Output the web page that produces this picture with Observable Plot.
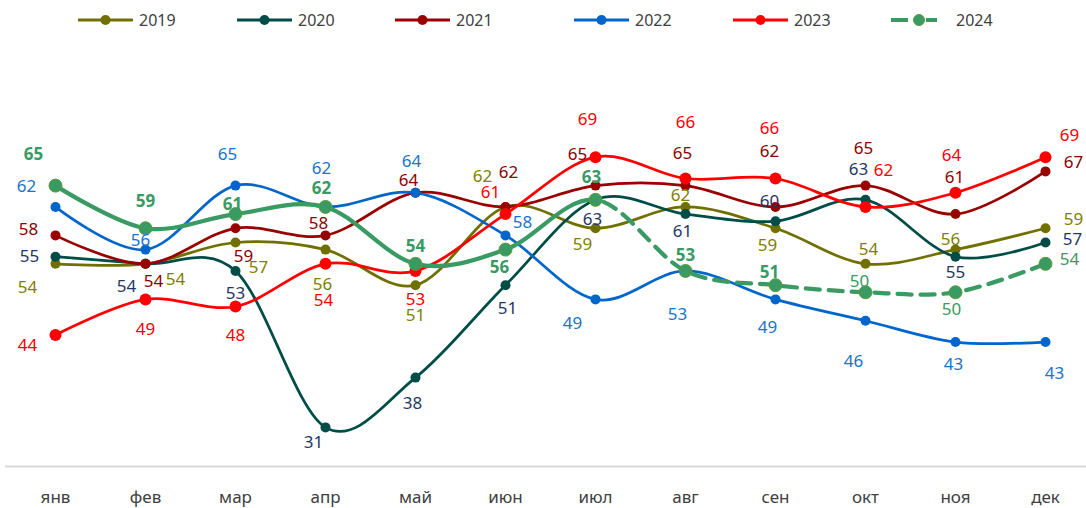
<!DOCTYPE html>
<html><head><meta charset="utf-8">
<script src="https://cdn.jsdelivr.net/npm/d3@7"></script>
<script src="https://cdn.jsdelivr.net/npm/@observablehq/plot@0.6"></script>
<style>
body{margin:0;background:#fff;font-family:"Noto Sans",sans-serif;}
#legend{position:relative;height:40px;width:1086px;}
.item{position:absolute;top:0;height:40px;display:flex;align-items:center;font-size:16px;color:#404040;}
.item svg{margin-right:5px;}
</style></head><body>
<div id="legend"></div><div id="chart"></div>
<script>
// ---- data ----
const months = ["янв","фев","мар","апр","май","июн","июл","авг","сен","окт","ноя","дек"];
const years = ["2019","2020","2021","2022","2023","2024"];
const v2019 = [54,54,57,56,51,62,59,62,59,54,56,59];
const v2020 = [55,54,53,31,38,51,63,61,60,63,55,57];
const v2021 = [58,54,59,58,64,62,65,65,62,65,61,67];
const v2022 = [62,56,65,62,64,58,49,53,49,46,43,43];
const v2023 = [44,49,48,54,53,61,69,66,66,62,64,69];
const v2024 = [65,59,61,62,54,56,63,53,51,50,50,54];
const values = [v2019,v2020,v2021,v2022,v2023,v2024];

// ---- styles / label placement ----
const lineColors = ["#707000","#004D47","#990000","#0066CC","#FF0000","#3A9A64"];
const labelColors = ["#7F7F00","#1F3864","#8B0000","#1874CD","#FF0000","#3A9A64"];
const off2019 = [[-28,24],[30,16],[23,25],[-3,35],[0,30],[-23,-30],[-13,16],[-5,-11],[-8,17],[3,-14],[-5,-10],[28,-9]];
const off2020 = [[-26,0],[-19,23],[0,23],[-12,15],[-3,26],[2,23],[-3,20],[-3,17],[-6,-20],[-7,-30],[0,16],[27,-3]];
const off2021 = [[-27,-6],[8,18],[8,28],[-7,-12],[-7,-12],[3,-34],[-18,-31],[-3,-32],[-6,-55],[-2,-37],[-1,-37],[28,-9]];
const off2022 = [[-29,-20],[-5,-9],[-8,-31],[-4,-38],[-4,-31],[17,-13],[-23,24],[-8,44],[-8,28],[-12,41],[-2,22],[9,31]];
const off2023 = [[-28,11],[0,30],[0,29],[-2,37],[0,29],[-15,-22],[-8,-38],[0,-56],[-6,-50],[18,-36],[-4,-37],[24,-22]];
const off2024 = [[-22,-31],[0,-27],[-3,-10],[-4,-18],[0,-17],[-6,18],[-4,-22],[0,-15],[-6,-13],[-6,-11],[-4,17],[24,-4]];
const offsets = [off2019,off2020,off2021,off2022,off2023,off2024];
const bold2024 = [1,1,1,1,1,1,1,1,1,0,0,0];
const line2024Id = "#3a9a65"; // tag colour used to find the 2024 path

// ---- legend ----
const legendX = [78,237,395,574,733,891];
const legend = document.getElementById("legend");
years.forEach((yr,i)=>{
  const d = document.createElement("div");
  d.className="item"; d.style.left = legendX[i]+"px";
  const c = lineColors[i];
  let sw;
  if (i<5) {
    sw = `<svg width="56" height="14"><line x1="0" y1="7" x2="55" y2="7" stroke="${c}" stroke-width="3"/><circle cx="27.5" cy="7" r="5" fill="${c}"/></svg>`;
  } else {
    sw = `<svg width="60" height="14"><line x1="0" y1="7" x2="17" y2="7" stroke="${c}" stroke-width="4"/><line x1="35" y1="7" x2="46" y2="7" stroke="${c}" stroke-width="4"/><circle cx="28" cy="7" r="5.5" fill="${c}" stroke="#5C9A3C" stroke-width="1"/></svg>`;
  }
  d.innerHTML = sw + `<span>${yr}</span>`;
  legend.appendChild(d);
});

// ---- chart ----
const rows = [];
years.forEach((yr,i)=>values[i].forEach((v,j)=>rows.push({year:yr, month:months[j], value:v, i, j})));

const marks = [Plot.ruleY([25.5], {stroke:"#D9D9D9", strokeWidth:2})];
years.forEach((yr,i)=>{
  const data = rows.filter(r=>r.year===yr);
  const is24 = i===5;
  marks.push(Plot.line(data, {x:"month", y:"value", stroke: is24 ? line2024Id : lineColors[i], strokeWidth: is24?4.25:2.75, curve:"cardinal", tension:0}));
  marks.push(Plot.dot(data, {x:"month", y:"value", r: is24?6.5:(i===4?6:5), fill:lineColors[i], stroke: is24?"#5C9A3C":"none", strokeWidth:1}));
});
rows.forEach(r=>{
  const [dx,dy] = offsets[r.i][r.j];
  marks.push(Plot.text([r], {x:"month", y:"value", text: d=>String(d.value), dx, dy,
    fill: labelColors[r.i], fontSize:17,
    fontWeight: (r.i===5 && bold2024[r.j]) ? "bold" : "normal"}));
});
marks.push(Plot.axisX({tickSize:0, tickPadding:24, fontSize:17, fill:"#404040"}));

const chart = Plot.plot({
  width:1086, height:468,
  marginLeft:5, marginRight:0, marginTop:74, marginBottom:42,
  style:{fontFamily:"'Noto Sans', sans-serif", background:"#fff", overflow:"visible"},
  x:{type:"point", domain:months, padding:0.47, align:0.55, label:null},
  y:{domain:[25.5,75], axis:null},
  marks
});
document.getElementById("chart").appendChild(chart);

// 2024: solid until июл, dashed afterwards
try {
  let path = null;
  chart.querySelectorAll("g").forEach(g=>{
    if ((g.getAttribute("stroke")||"").toLowerCase() === line2024Id && g.querySelector("path")) path = g.querySelector("path");
  });
  if (path) {
    path.parentNode.setAttribute("stroke", lineColors[5]);
    const xJul = chart.scale("x").apply("июл");
    const total = path.getTotalLength();
    let lo=0, hi=total;
    for (let k=0;k<40;k++){ const m=(lo+hi)/2; if (path.getPointAtLength(m).x < xJul) lo=m; else hi=m; }
    const n = Math.ceil((total-lo)/23)+2;
    path.setAttribute("stroke-dasharray", `${lo.toFixed(1)} 8 ` + "14 9 ".repeat(n));
  }
} catch(e) { console.error(e); }
</script>
</body></html>
